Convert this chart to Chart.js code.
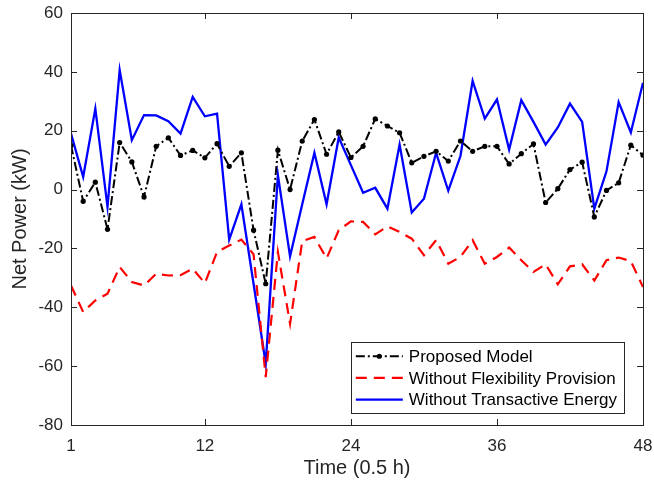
<!DOCTYPE html>
<html>
<head>
<meta charset="utf-8">
<title>Net Power</title>
<script src="https://cdn.jsdelivr.net/npm/chart.js@4.4.1/dist/chart.umd.min.js"></script>
<style>
  body { margin: 0; background: #fff; }
  canvas { display: block; }
</style>
</head>
<body>
<canvas id="powerChart" width="654" height="483"></canvas>
<script>
// half-hour slots 1..48
var slots = [];
for (var i = 1; i <= 48; i++) slots.push(i);

var xTicks = [1, 12, 24, 36, 48];
var yTicks = [-80, -60, -40, -20, 0, 20, 40, 60];

var proposed = [15, -4, 2.5, -13.5, 16, 9.4, -2.5, 14.7, 17.6, 11.6, 13.3, 10.8,
  15.6, 7.9, 12.5, -13.8, -32, 13.4, 0, 16.5, 23.8, 12, 19.6, 10.9,
  14.7, 24, 21.6, 19.3, 9.1, 11.3, 13, 9.7, 16.5, 13, 14.7, 14.7,
  8.7, 12.2, 15.5, -4.4, 0.3, 6.8, 9.3, -9.3, -0.3, 2.3, 15.1, 11.7];

var noFlexibility = [-32.6, -41.6, -37.7, -35.4, -26.3, -31.4, -32.6, -28.6, -29.2, -29.1, -26.9, -31.8,
  -21.2, -19, -17, -22, -63.7, -21.2, -45.6, -17.5, -16.1, -23.4, -13.8, -10.8,
  -11, -15.2, -12.5, -14.4, -16.7, -22.3, -17.2, -25.2, -22.9, -17.2, -25.2, -22.9,
  -19.7, -24, -28, -25.4, -32.2, -26.1, -25.4, -30.9, -24, -23.1, -24.3, -33.1];

var noTransactive = [19, 4.3, 27.5, -5.9, 40.6, 16.8, 25.3, 25.2, 23.2, 19, 31.5, 24.9,
  25.8, -17, -5, -32, -59.2, 4.9, -22.7, -5, 12.5, -5, 17.7, 8.3,
  -1.1, 0.6, -6.5, 15.3, -7.8, -3.1, 12.5, -0.4, 11.4, 36.9, 24.1, 30.6,
  13.6, 30.4, 23, 15.3, 21.1, 29.2, 23, -6.5, 6.2, 29.7, 19.4, 36.3];

var seriesNames = ['Proposed Model', 'Without Flexibility Provision', 'Without Transactive Energy'];

var FONT = "'Liberation Sans', Arial, sans-serif";
var INK = '#262626';

// box around the axes with ticks pointing inwards (both sides)
var axesBox = {
  id: 'axesBox',
  afterDraw: function (chart) {
    var ctx = chart.ctx;
    var a = chart.chartArea;
    var len = 6;
    ctx.save();
    ctx.strokeStyle = INK;
    ctx.lineWidth = 1;
    ctx.beginPath();
    chart.scales.x.ticks.forEach(function (t) {
      var px = Math.round(chart.scales.x.getPixelForValue(t.value)) + 0.5;
      ctx.moveTo(px, a.bottom); ctx.lineTo(px, a.bottom - len);
      ctx.moveTo(px, a.top); ctx.lineTo(px, a.top + len);
    });
    chart.scales.y.ticks.forEach(function (t) {
      var py = Math.round(chart.scales.y.getPixelForValue(t.value)) + 0.5;
      ctx.moveTo(a.left, py); ctx.lineTo(a.left + len, py);
      ctx.moveTo(a.right, py); ctx.lineTo(a.right - len, py);
    });
    ctx.stroke();
    ctx.strokeRect(Math.round(a.left) + 0.5, Math.round(a.top) + 0.5,
      Math.round(a.right - a.left), Math.round(a.bottom - a.top));
    ctx.restore();
  }
};

// legend drawn inside the plot, lower right corner
var boxLegend = {
  id: 'boxLegend',
  afterDraw: function (chart) {
    var ctx = chart.ctx;
    var a = chart.chartArea;
    ctx.save();
    ctx.font = '17px ' + FONT;
    var maxW = 0;
    chart.data.datasets.forEach(function (ds) {
      maxW = Math.max(maxW, ctx.measureText(ds.label).width);
    });
    var sample = 47, pad = 5, gap = 6;
    var rowH = 21.7;
    var w = pad + sample + gap + maxW + 7;
    var h = rowH * 3 + 6;
    var x0 = a.right - 19 - w;
    var y0 = a.bottom - 12 - h;
    ctx.fillStyle = '#fff';
    ctx.fillRect(x0, y0, w, h);
    ctx.strokeStyle = INK;
    ctx.lineWidth = 1;
    ctx.strokeRect(Math.round(x0) + 0.5, Math.round(y0) + 0.5, Math.round(w), Math.round(h));

    chart.data.datasets.forEach(function (ds, k) {
      var cy = y0 + 3.5 + rowH * k + rowH / 2;
      var sx = x0 + pad;
      ctx.strokeStyle = ds.borderColor;
      ctx.lineWidth = ds.borderWidth;
      ctx.setLineDash(ds.borderDash || []);
      ctx.beginPath();
      ctx.moveTo(sx, cy);
      ctx.lineTo(sx + sample, cy);
      ctx.stroke();
      ctx.setLineDash([]);
      if (ds.pointRadius > 0) {
        ctx.fillStyle = ds.pointBackgroundColor;
        ctx.beginPath();
        ctx.arc(sx + sample / 2, cy, ds.pointRadius, 0, Math.PI * 2);
        ctx.fill();
      }
      ctx.fillStyle = '#000';
      ctx.textBaseline = 'middle';
      ctx.textAlign = 'left';
      ctx.fillText(ds.label, sx + sample + gap, cy + 1);
    });
    ctx.restore();
  }
};

var ctx = document.getElementById('powerChart');
var powerChart = new Chart(ctx, {
  type: 'line',
  data: {
    labels: slots,
    datasets: [
      {
        label: seriesNames[0],
        data: proposed,
        borderColor: '#000000',
        borderWidth: 2,
        borderDash: [9, 3, 2, 3],
        pointRadius: 2.6,
        pointBackgroundColor: '#000000',
        pointBorderWidth: 0,
        tension: 0
      },
      {
        label: seriesNames[1],
        data: noFlexibility,
        borderColor: '#ff0000',
        borderWidth: 2.2,
        borderDash: [11, 7],
        pointRadius: 0,
        tension: 0
      },
      {
        label: seriesNames[2],
        data: noTransactive,
        borderColor: '#0000ff',
        borderWidth: 2.3,
        pointRadius: 0,
        tension: 0
      }
    ]
  },
  options: {
    responsive: false,
    animation: false,
    devicePixelRatio: 1,
    layout: { padding: { top: 13, right: 11, left: 0, bottom: 0 } },
    plugins: {
      legend: { display: false },
      tooltip: { enabled: false }
    },
    scales: {
      x: {
        type: 'linear',
        min: 1,
        max: 48,
        afterBuildTicks: function (scale) {
          scale.ticks = xTicks.map(function (v) { return { value: v }; });
        },
        afterFit: function (scale) {
          scale.height = 58;
          scale.paddingLeft = 0;
          scale.paddingRight = 0;
        },
        grid: { display: false, drawTicks: false },
        border: { display: false },
        ticks: {
          padding: 11,
          maxRotation: 0,
          color: INK,
          font: { family: FONT, size: 17 }
        },
        title: {
          display: true,
          text: 'Time (0.5 h)',
          color: INK,
          font: { family: FONT, size: 20 },
          padding: { top: 0, bottom: 3 }
        }
      },
      y: {
        min: -80,
        max: 60,
        afterBuildTicks: function (scale) {
          scale.ticks = yTicks.map(function (v) { return { value: v }; });
        },
        afterFit: function (scale) {
          scale.width = 71;
          scale.paddingTop = 0;
          scale.paddingBottom = 0;
        },
        grid: { display: false, drawTicks: false },
        border: { display: false },
        ticks: {
          padding: 8,
          color: INK,
          font: { family: FONT, size: 17 }
        },
        title: {
          display: true,
          text: 'Net Power (kW)',
          color: INK,
          font: { family: FONT, size: 20 },
          padding: { top: 8, bottom: 0 }
        }
      }
    }
  },
  plugins: [axesBox, boxLegend]
});
</script>
</body>
</html>
